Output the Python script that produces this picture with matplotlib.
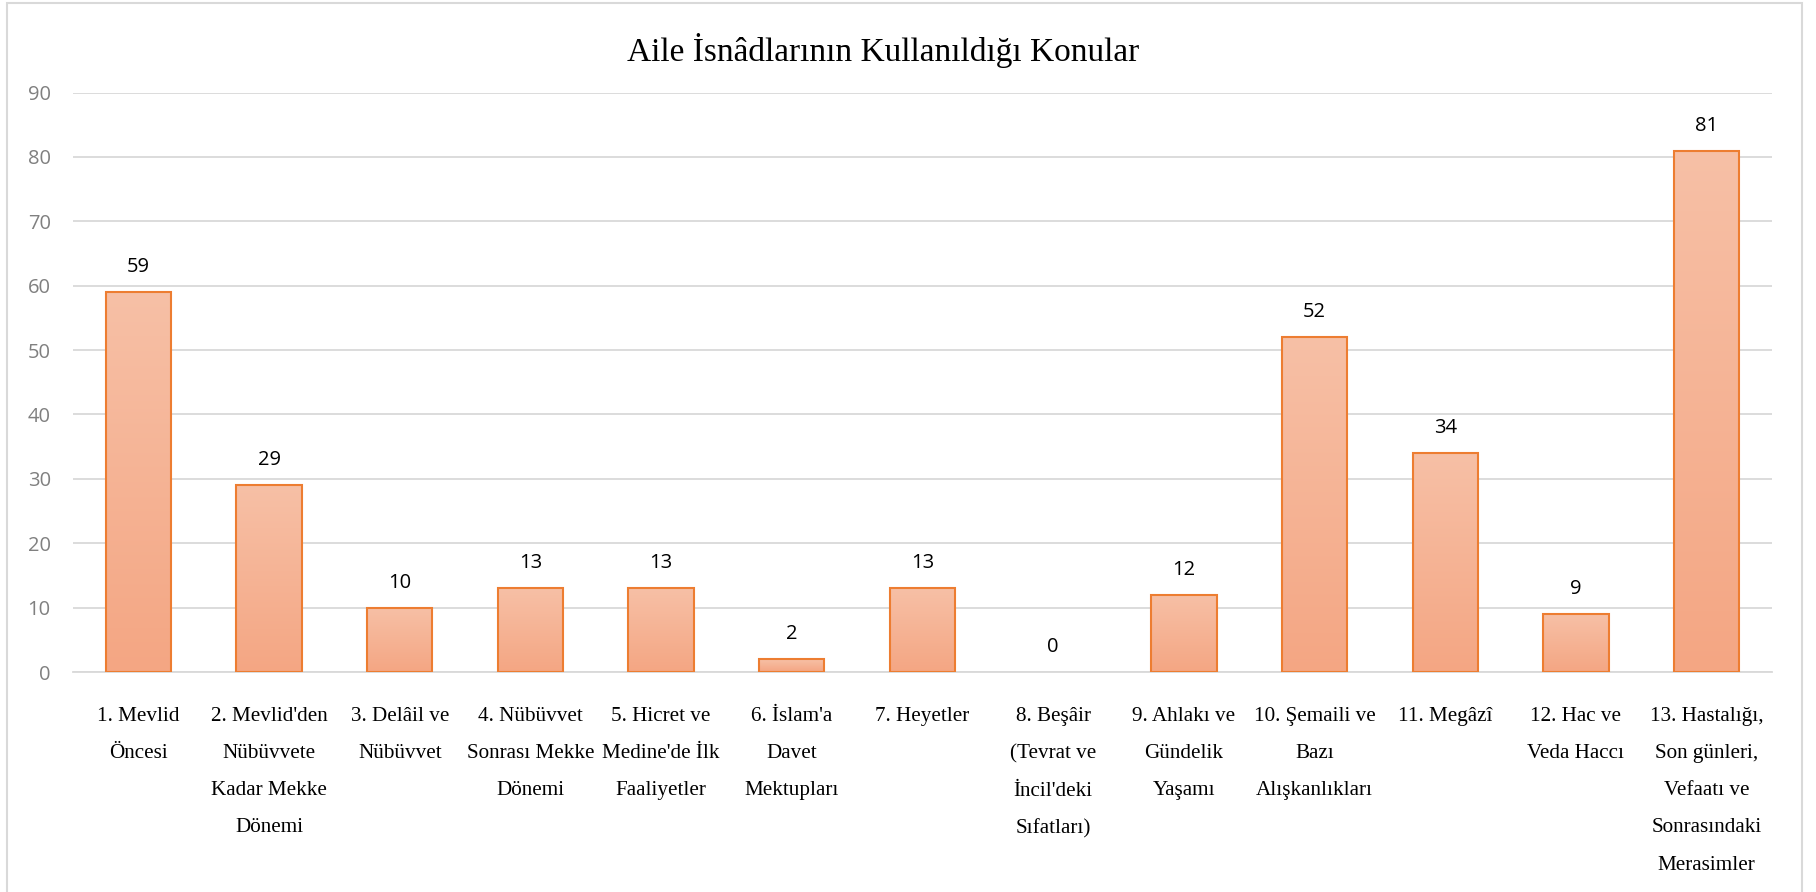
import matplotlib
matplotlib.use("Agg")
import matplotlib.pyplot as plt
import numpy as np
from matplotlib.colors import LinearSegmentedColormap
from matplotlib.patches import Rectangle

title = "Aile İsnâdlarının Kullanıldığı Konular"
categories = [
    "1. Mevlid\nÖncesi",
    "2. Mevlid'den\nNübüvvete\nKadar Mekke\nDönemi",
    "3. Delâil ve\nNübüvvet",
    "4. Nübüvvet\nSonrası Mekke\nDönemi",
    "5. Hicret ve\nMedine'de İlk\nFaaliyetler",
    "6. İslam'a\nDavet\nMektupları",
    "7. Heyetler",
    "8. Beşâir\n(Tevrat ve\nİncil'deki\nSıfatları)",
    "9. Ahlakı ve\nGündelik\nYaşamı",
    "10. Şemaili ve\nBazı\nAlışkanlıkları",
    "11. Megâzî",
    "12. Hac ve\nVeda Haccı",
    "13. Hastalığı,\nSon günleri,\nVefaatı ve\nSonrasındaki\nMerasimler",
]
values = [59, 29, 10, 13, 13, 2, 13, 0, 12, 52, 34, 9, 81]
yticks = [0, 10, 20, 30, 40, 50, 60, 70, 80, 90]

W, H = 1816, 892
fig = plt.figure(figsize=(W / 100, H / 100), dpi=100)
fig.patch.set_facecolor("white")

# chart border
fig.add_artist(Rectangle((7 / W, -0.05), (1802 - 7) / W, 1.05 - 3 / H,
                         transform=fig.transFigure, fill=False,
                         edgecolor="#D9D9D9", linewidth=1.5))

ax = fig.add_axes([73 / W, 1 - 672 / H, (1772 - 73) / W, (672 - 92.6) / H])
x = np.arange(len(values))
bars = ax.bar(x, values, width=0.5, facecolor="none", edgecolor="#ED7D31",
              linewidth=1.5, zorder=3)

cmap = LinearSegmentedColormap.from_list("g", ["#F4A683", "#F7C0A6"])
grad = np.linspace(0, 1, 256).reshape(-1, 1)
for b in bars:
    h = b.get_height()
    if h <= 0:
        b.set_visible(False)
        continue
    im = ax.imshow(grad, cmap=cmap, origin="lower", aspect="auto",
                   extent=[b.get_x(), b.get_x() + b.get_width(), 0, h], zorder=2)
    im.set_clip_path(b)

for b, v in zip(bars, values):
    ax.annotate(str(v), (b.get_x() + b.get_width() / 2, v), xytext=(0, 18),
                textcoords="offset points", ha="center", va="center",
                fontsize=14.5, family="Open Sans", color="black")

ax.set_xlim(-0.5, len(values) - 0.5)
ax.set_ylim(0, 90)
ax.set_yticks(yticks)
ax.set_yticklabels([str(t) for t in yticks], family="Open Sans", fontsize=14.5,
                   color="#808080")
ax.set_xticks(x)
ax.set_xticklabels(categories, family="Liberation Serif", fontsize=15.2,
                   color="black", va="top")
for lbl in ax.get_xticklabels():
    lbl.set_linespacing(2.3)
ax.tick_params(axis="both", length=0)
ax.tick_params(axis="y", pad=16)
ax.tick_params(axis="x", pad=25)
ax.grid(axis="y", color="#D9D9D9", linewidth=1.3, zorder=0)
ax.set_axisbelow(True)
for s in ["top", "right", "left"]:
    ax.spines[s].set_visible(False)
ax.spines["bottom"].set_color("#D9D9D9")
ax.spines["bottom"].set_linewidth(1.3)

fig.text(883 / W, 1 - 51 / H, title, ha="center", va="center",
         family="Liberation Serif", fontsize=24, color="black")

fig.savefig("out.png", dpi=100, facecolor="white")
